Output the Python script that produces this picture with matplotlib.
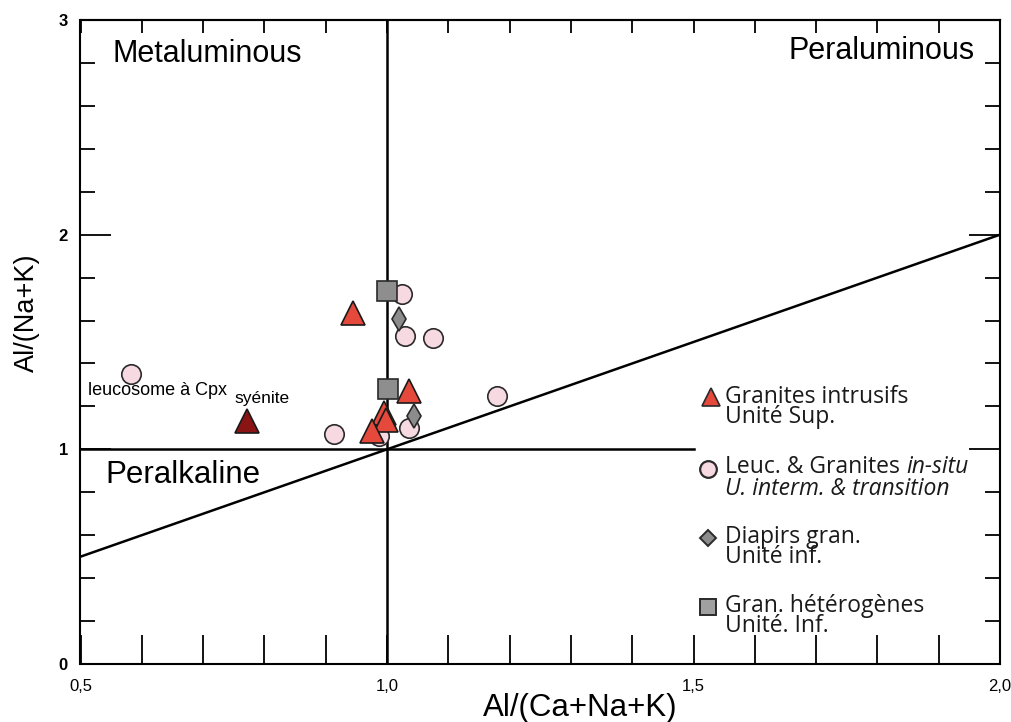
import numpy as np
import matplotlib
matplotlib.use("Agg")
import matplotlib.pyplot as plt
from matplotlib.ticker import MultipleLocator

# --- data ---
# Granites intrusifs, Unite Sup.
gi_x = [0.945, 1.036, 0.995, 0.998, 0.976]
gi_y = [1.634, 1.272, 1.170, 1.137, 1.086]
# syenite (dark triangle)
sy_x = [0.772]
sy_y = [1.133]
# Leuc. & Granites in-situ
lg_x = [0.582, 1.024, 1.029, 1.075, 1.180, 0.914, 0.987, 1.036]
lg_y = [1.351, 1.722, 1.527, 1.518, 1.249, 1.072, 1.063, 1.100]
# Diapirs gran.
dg_x = [1.020, 1.044]
dg_y = [1.606, 1.156]
# Gran. heterogenes
gh_x = [1.000, 1.002]
gh_y = [1.736, 1.281]

xticks = [0.5, 1.0, 1.5, 2.0]
xticklabels = ["0,5", "1,0", "1,5", "2,0"]
yticks = [0, 1, 2, 3]

plt.rcParams["font.family"] = ["Liberation Sans", "DejaVu Sans"]

W, H = 1012, 722
fig = plt.figure(figsize=(W / 100, H / 100), dpi=100)
x0, x1, y0, y1 = 80.5, 1000, 664, 20
ax = fig.add_axes([x0 / W, 1 - y0 / H, (x1 - x0) / W, (y0 - y1) / H])


def px(x, y):
    return x / W, 1 - y / H


ax.set_xlim(0.5, 2.0)
ax.set_ylim(0, 3)
for s in ax.spines.values():
    s.set_linewidth(1.5)

# reference lines
ax.plot([1.0, 1.0], [0, 3], color="black", lw=1.8, zorder=2)
ax.plot([0.5, 1.5], [1.0, 1.0], color="black", lw=1.8, zorder=2)
ax.plot([0.5, 2.0], [0.5, 2.0], color="black", lw=1.8, zorder=2)

# ticks
ax.set_xticks(xticks)
ax.set_xticklabels(xticklabels)
ax.xaxis.set_minor_locator(MultipleLocator(0.1))
ax.tick_params(axis="x", which="both", direction="in", length=21, width=1.3,
               top=False, labelsize=12, pad=11)
ax.set_yticks(yticks)
ax.set_yticklabels([str(v) for v in yticks], fontweight="bold")
ax.yaxis.set_minor_locator(MultipleLocator(0.2))
ax.tick_params(axis="y", which="major", direction="in", length=22, width=1.3,
               right=True, labelsize=12, pad=9)
ax.tick_params(axis="y", which="minor", direction="in", length=11, width=1.3,
               right=True)

top = ax.secondary_xaxis("top")
top.xaxis.set_major_locator(MultipleLocator(0.1))
top.tick_params(axis="x", which="both", direction="in", length=9.5, width=1.3,
                labeltop=False)
top.spines["top"].set_linewidth(1.5)

# data
ax.plot(lg_x, lg_y, "o", ms=14, mfc="#f7d9e1", mec="#2a2a2a", mew=1.2, zorder=3)
ax.plot(gi_x, gi_y, "^", ms=17, mfc="#e4493b", mec="#1a1a1a", mew=1.2, zorder=4)
ax.plot(sy_x, sy_y, "^", ms=17, mfc="#8a1414", mec="#1a1a1a", mew=1.2, zorder=4)
ax.plot(dg_x, dg_y, "d", ms=12.5, mfc="#8c8c8c", mec="#2a2a2a", mew=1.2, zorder=5)
ax.plot(gh_x, gh_y, "s", ms=14.5, mfc="#8e8e8e", mec="#2a2a2a", mew=1.2, zorder=6)

# field names
ax.text(0.553, 2.804, "Metaluminous", fontsize=22, va="baseline", ha="left")
ax.text(1.959, 2.818, "Peraluminous", fontsize=22, va="baseline", ha="right")
ax.text(0.540, 0.843, "Peralkaline", fontsize=22.5, va="baseline", ha="left")
ax.text(0.512, 1.253, "leucosome à Cpx", fontsize=13, va="baseline", ha="left")
ax.text(0.752, 1.216, "syénite", fontsize=12.5, va="baseline", ha="left")

# axis titles
fig.text(*px(580, 716), "Al/(Ca+Na+K)", fontsize=22.5, ha="center", va="baseline")
fig.text(*px(27, 313), "Al/(Na+K)", fontsize=19.5, ha="center", va="center",
         rotation=90)

# hand-made legend
lf = dict(family=["Open Sans", "DejaVu Sans"], fontsize=16.5, va="baseline",
          ha="left", color="#1a1a1a", linespacing=0.78)


def key(xp, yp, marker, ms, fc, mew):
    fig.lines.append(plt.Line2D([xp / W], [1 - yp / H], marker=marker, ms=ms,
                                mfc=fc, mec="#2a2a2a", mew=mew,
                                transform=fig.transFigure, figure=fig))


key(711, 397, "^", 13, "#e4493b", 1.2)
key(708, 469, "o", 12, "#f7d9e1", 1.6)
key(708, 538, "D", 8, "#8c8c8c", 1.4)
key(708, 607, "s", 12, "#a0a0a0", 1.4)

# multi-line texts: the baseline given is that of the last line
tx = 725
fig.text(*px(tx, 423), "Granites intrusifs\nUnité Sup.", **lf)
t = fig.text(*px(tx, 473), "Leuc. & Granites ", **lf)
fig.canvas.draw()
xe = t.get_window_extent(fig.canvas.get_renderer()).x1
fig.text(xe / W, 1 - 473 / H, "in-situ", style="italic", **lf)
fig.text(*px(tx, 495), "U. interm. & transition", style="italic", **lf)
fig.text(*px(tx, 563), "Diapirs gran.\nUnité inf.", **lf)
fig.text(*px(tx, 632), "Gran. hétérogènes\nUnité. Inf.", **lf)

fig.savefig("out.png", dpi=100)
